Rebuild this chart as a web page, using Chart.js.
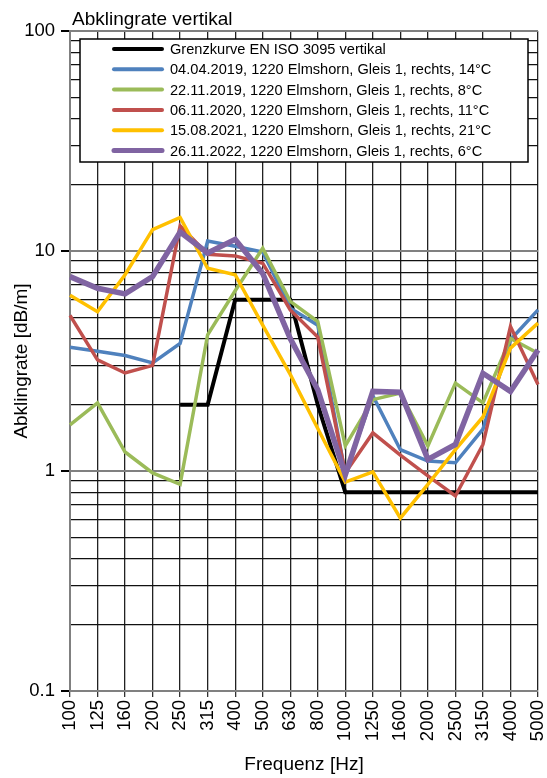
<!DOCTYPE html>
<html>
<head>
<meta charset="utf-8">
<script src="https://cdn.jsdelivr.net/npm/chart.js@4.4.1/dist/chart.umd.min.js"></script>
<style>
  html, body { margin: 0; padding: 0; background: #fff; }
  canvas { display: block; }
</style>
</head>
<body>
<canvas id="chart" width="547" height="778"></canvas>
<script>
const chartTitle = 'Abklingrate vertikal';
const freqLabels = ['100', '125', '160', '200', '250', '315', '400', '500', '630', '800',
    '1000', '1250', '1600', '2000', '2500', '3150', '4000', '5000'];

const limitCurve = [null, null, null, null, 2, 2, 6, 6, 6, 2, 0.8, 0.8, 0.8, 0.8, 0.8, 0.8, 0.8, 0.8];
const run2019a = [3.65, 3.5, 3.35, 3.1, 3.8, 11.1, 10.5, 9.9, 5.5, 4.6, 0.97, 2.2, 1.25, 1.11, 1.09, 1.55, 3.95, 5.4];
const run2019b = [1.62, 2.04, 1.22, 0.98, 0.87, 4.16, 6.6, 10.3, 5.9, 4.78, 1.3, 2.11, 2.26, 1.3, 2.51, 2.04, 4.0, 3.43];
const run2020 = [5.1, 3.2, 2.79, 3.02, 13.0, 9.66, 9.5, 8.8, 5.4, 4.06, 0.98, 1.49, 1.18, 0.95, 0.77, 1.32, 4.54, 2.47];
const run2021 = [6.3, 5.3, 7.8, 12.5, 14.2, 8.35, 7.8, 4.6, 2.75, 1.56, 0.89, 0.99, 0.61, 0.87, 1.25, 1.76, 3.62, 4.7];
const run2022 = [7.65, 6.77, 6.38, 7.65, 12.2, 9.8, 11.3, 7.9, 4.0, 2.34, 0.96, 2.3, 2.28, 1.13, 1.32, 2.78, 2.3, 3.55];

const seriesNames = [
    'Grenzkurve EN ISO 3095 vertikal',
    '04.04.2019, 1220 Elmshorn, Gleis 1, rechts, 14°C',
    '22.11.2019, 1220 Elmshorn, Gleis 1, rechts, 8°C',
    '06.11.2020, 1220 Elmshorn, Gleis 1, rechts, 11°C',
    '15.08.2021, 1220 Elmshorn, Gleis 1, rechts, 21°C',
    '26.11.2022, 1220 Elmshorn, Gleis 1, rechts, 6°C'
];
const seriesColors = ['#000000', '#4F81BD', '#9BBB59', '#C0504D', '#FFC000', '#8064A2'];

const yTickValues = [0.1, 1, 10, 100];
const yTickLabels = ['0.1', '1', '10', '100'];

const FONT = '"Liberation Sans", Arial, sans-serif';

function isDecade(v) {
    return yTickValues.some(d => Math.abs(d - v) < 1e-9);
}

const overlay = {
    id: 'overlay',
    afterDraw(chart) {
        const ctx = chart.ctx;
        ctx.save();
        ctx.fillStyle = '#000';
        ctx.font = '19px ' + FONT;
        ctx.textBaseline = 'alphabetic';
        ctx.textAlign = 'left';
        ctx.fillText(chartTitle, 72, 25);

        // legend box inside the plot
        const bx = 80, by = 39, bw = 448, bh = 123;
        ctx.fillStyle = '#fff';
        ctx.fillRect(bx, by, bw, bh);
        ctx.strokeStyle = '#000';
        ctx.lineWidth = 1.5;
        ctx.strokeRect(bx, by, bw, bh);

        ctx.font = '14.6px ' + FONT;
        ctx.textBaseline = 'middle';
        chart.data.datasets.forEach((ds, i) => {
            const y = 49 + i * 20.3;
            ctx.strokeStyle = ds.borderColor;
            ctx.lineWidth = i === 5 ? 5 : 4;
            ctx.lineCap = 'round';
            ctx.beginPath();
            ctx.moveTo(114, y);
            ctx.lineTo(162, y);
            ctx.stroke();
            ctx.fillStyle = '#000';
            ctx.fillText(ds.label, 170, y + 1);
        });
        ctx.restore();
    }
};

const seriesData = [limitCurve, run2019a, run2019b, run2020, run2021, run2022];

new Chart(document.getElementById('chart'), {
    type: 'line',
    data: {
        labels: freqLabels,
        datasets: seriesData.map((d, i) => ({
            label: seriesNames[i],
            data: d,
            borderColor: seriesColors[i],
            backgroundColor: seriesColors[i],
            borderWidth: i === 5 ? 5.5 : (i === 0 ? 4 : 3.5),
            pointRadius: 0,
            tension: 0,
            fill: false,
            spanGaps: false,
            order: 6 - i
        }))
    },
    options: {
        responsive: false,
        devicePixelRatio: 1,
        animation: false,
        layout: { padding: { top: 31, right: 9, left: 0, bottom: 0 } },
        plugins: {
            legend: { display: false },
            tooltip: { enabled: false },
            title: { display: false }
        },
        scales: {
            x: {
                type: 'category',
                offset: false,
                grid: {
                    color: '#222',
                    lineWidth: 1.3,
                    drawTicks: true,
                    tickLength: 6,
                    tickColor: '#333'
                },
                border: { color: '#808080', width: 2 },
                ticks: {
                    autoSkip: false,
                    minRotation: 90,
                    maxRotation: 90,
                    color: '#000',
                    padding: 3,
                    font: { family: FONT, size: 18.5 }
                },
                title: {
                    display: true,
                    text: 'Frequenz [Hz]',
                    color: '#000',
                    font: { family: FONT, size: 19 },
                    padding: { top: 0, bottom: 2 }
                },
                afterFit(scale) {
                    scale.height = 87;
                    scale.paddingLeft = 0;
                    scale.paddingRight = 0;
                }
            },
            y: {
                type: 'logarithmic',
                min: 0.1,
                max: 100,
                afterBuildTicks(scale) {
                    const ticks = [];
                    for (let e = -1; e <= 1; e++) {
                        for (let m = 1; m <= 9; m++) {
                            ticks.push({ value: Number((m * Math.pow(10, e)).toPrecision(3)) });
                        }
                    }
                    ticks.push({ value: 100 });
                    scale.ticks = ticks;
                },
                grid: {
                    color: c => (c.tick && isDecade(c.tick.value)) ? '#808080' : '#111',
                    lineWidth: c => (c.tick && isDecade(c.tick.value)) ? 2 : 1.2,
                    drawTicks: true,
                    tickLength: 9,
                    tickColor: c => (c.tick && isDecade(c.tick.value)) ? '#000' : 'rgba(0,0,0,0)'
                },
                border: { color: '#808080', width: 2 },
                ticks: {
                    autoSkip: false,
                    color: '#000',
                    padding: 6,
                    font: { family: FONT, size: 18.5 },
                    callback(value) {
                        const k = yTickValues.findIndex(d => Math.abs(d - value) < 1e-9);
                        return k >= 0 ? yTickLabels[k] : '';
                    }
                },
                title: {
                    display: true,
                    text: 'Abklingrate [dB/m]',
                    color: '#000',
                    font: { family: FONT, size: 19 },
                    padding: { top: 10, bottom: 0 }
                },
                afterFit(scale) {
                    scale.width = 70;
                    scale.paddingTop = 0;
                    scale.paddingBottom = 0;
                }
            }
        }
    },
    plugins: [overlay]
});
</script>
</body>
</html>
